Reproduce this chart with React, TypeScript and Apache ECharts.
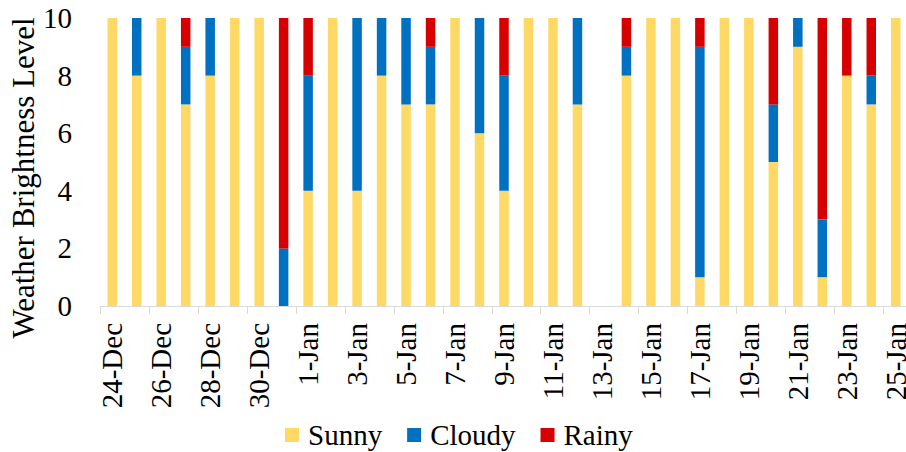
import React, { useEffect, useRef } from "react";
import * as echarts from "echarts";

const categories = [
  "24-Dec", "25-Dec", "26-Dec", "27-Dec", "28-Dec", "29-Dec", "30-Dec", "31-Dec",
  "1-Jan", "2-Jan", "3-Jan", "4-Jan", "5-Jan", "6-Jan", "7-Jan", "8-Jan", "9-Jan",
  "10-Jan", "11-Jan", "12-Jan", "13-Jan", "14-Jan", "15-Jan", "16-Jan", "17-Jan",
  "18-Jan", "19-Jan", "20-Jan", "21-Jan", "22-Jan", "23-Jan", "24-Jan", "25-Jan",
];

const sunny = [10, 8, 10, 7, 8, 10, 10, 0, 4, 10, 4, 8, 7, 7, 10, 6, 4, 10, 10, 7, 0, 8, 10, 10, 1, 10, 10, 5, 9, 1, 8, 7, 10];
const cloudy = [0, 2, 0, 2, 2, 0, 0, 2, 4, 0, 6, 2, 3, 2, 0, 4, 4, 0, 0, 3, 0, 1, 0, 0, 8, 0, 0, 2, 1, 2, 0, 1, 0];
const rainy = [0, 0, 0, 1, 0, 0, 0, 8, 2, 0, 0, 0, 0, 1, 0, 0, 2, 0, 0, 0, 0, 1, 0, 0, 1, 0, 0, 3, 0, 7, 2, 2, 0];

const seriesNames = ["Sunny", "Cloudy", "Rainy"];
const colors = ["#FFD966", "#0070C0", "#D70000"];
const yAxisTitle = "Weather Brightness Level";

const FONT = "Liberation Serif";

export default function App() {
  const ref = useRef<HTMLDivElement>(null);
  useEffect(() => {
    if (!ref.current) return;
    const chart = echarts.init(ref.current, null, { renderer: "svg" });
    const values = [sunny, cloudy, rainy];
    chart.setOption({
      animation: false,
      grid: { left: 100, right: -2, top: 18, bottom: 146, containLabel: false, outerBoundsMode: "none" },
      graphic: [
        {
          type: "text",
          x: 23,
          y: 178,
          rotation: Math.PI / 2,
          style: {
            text: yAxisTitle,
            fontFamily: FONT,
            fontSize: 31,
            fill: "#000",
            textAlign: "center",
            textVerticalAlign: "middle",
          },
        },
      ],
      legend: {
        data: seriesNames,
        left: 285,
        top: 420,
        padding: 0,
        itemWidth: 14,
        itemHeight: 14,
        itemGap: 25,
        icon: "rect",
        textStyle: { fontFamily: FONT, fontSize: 29, color: "#000", padding: [0, 0, 0, 4], lineHeight: 30 },
      },
      xAxis: {
        type: "category",
        data: categories,
        axisLine: { lineStyle: { color: "#D9D9D9", width: 1 } },
        axisTick: { show: true, interval: 1, length: 8, lineStyle: { color: "#D9D9D9" } },
        axisLabel: {
          interval: 1,
          rotate: 90,
          margin: 17,
          fontFamily: FONT,
          fontSize: 29,
          color: "#000",
        },
      },
      yAxis: {
        type: "value",
        min: 0,
        max: 10,
        interval: 2,
        axisLine: { show: false },
        axisTick: { show: false },
        splitLine: { show: false },
        axisLabel: { fontFamily: FONT, fontSize: 29, color: "#000", margin: 28 },
      },
      series: seriesNames.map((name, i) => ({
        name,
        type: "bar",
        stack: "total",
        barWidth: 9.5,
        data: values[i],
        itemStyle: { color: colors[i] },
      })),
    });
    return () => chart.dispose();
  }, []);
  return <div ref={ref} style={{ width: 906, height: 452, position: "absolute", left: 0, top: 0 }} />;
}
